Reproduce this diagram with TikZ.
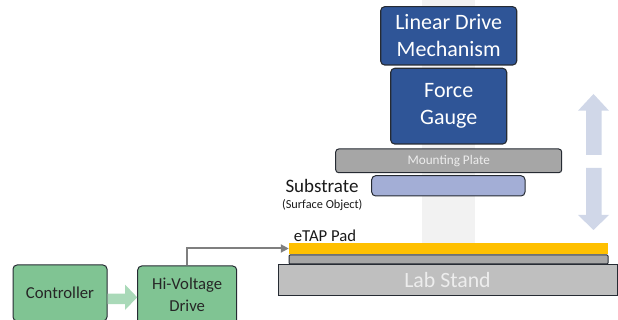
\documentclass[tikz,border=0pt]{standalone}
\usepackage{fontspec}
\setmainfont{Carlito}
\usetikzlibrary{arrows.meta}
\definecolor{bandgray}{HTML}{F2F2F2}
\definecolor{dblue}{HTML}{2F5597}
\definecolor{edgedark}{HTML}{262B33}
\definecolor{plategray}{HTML}{A6A6A6}
\definecolor{standgray}{HTML}{BFBFBF}
\definecolor{subblue}{HTML}{A3AED6}
\definecolor{padyellow}{HTML}{FFC000}
\definecolor{boxgreen}{HTML}{80C493}
\definecolor{arrowgreen}{HTML}{A9D9B8}
\definecolor{liftarrow}{HTML}{D0D7E8}
\definecolor{wiregray}{HTML}{7F7F7F}
\definecolor{lighttext}{HTML}{EDEDED}
\begin{document}
\begin{tikzpicture}[x=1pt,y=-1pt,
  bluebox/.style={draw=edgedark, line width=1.1pt, fill=dblue, rounded corners=4pt, inner sep=0pt, text=white, align=center, font=\fontsize{22}{26.7}\selectfont},
  greenbox/.style={draw=edgedark, line width=1pt, fill=boxgreen, rounded corners=4pt, inner sep=0pt, text=black!85, align=center, font=\fontsize{16.7}{22}\selectfont},
  platebox/.style={draw=edgedark, line width=1pt, fill=plategray, inner sep=0pt},
  label/.style={inner sep=0pt, text=black!90}
]
\useasboundingbox (0,0) rectangle (618,320);
\clip (0,0) rectangle (618,320);
% background band
\fill[bandgray] (422,0) rectangle (475,243);
% lift arrows
\fill[liftarrow] (593.5,94) -- (609,110.7) -- (601.7,110.7) -- (601.7,155) -- (586,155) -- (586,110.7) -- (578,110.7) -- cycle;
\fill[liftarrow] (593.5,230) -- (609,215) -- (601.7,215) -- (601.7,168) -- (586,168) -- (586,215) -- (578,215) -- cycle;
% stack
\node[bluebox, minimum width=136pt, minimum height=58.3pt] (ldm) at (448.7,35.85) {Linear Drive\\Mechanism};
\node[bluebox, minimum width=116pt, minimum height=75.7pt] (fg) at (448.7,106.15) {Force\\Gauge};
\node[platebox, rounded corners=3pt, minimum width=226pt, minimum height=23.7pt, text=lighttext, font=\fontsize{13.2}{15}\selectfont] (mp) at (448.7,160.85) {Mounting Plate};
\node[draw=edgedark, line width=1pt, fill=subblue, rounded corners=4pt, inner sep=0pt, minimum width=153.3pt, minimum height=20.3pt] (sub) at (448.35,185.85) {};
\node[label, font=\fontsize{19}{22}\selectfont] (sublabel) at (322,185.7) {Substrate};
\node[label, font=\fontsize{12.3}{14}\selectfont] (subnote) at (322.3,204.7) {(Surface Object)};
\node[label, font=\fontsize{16.7}{19}\selectfont] (padlabel) at (325,236) {eTAP Pad};
\node[fill=padyellow, inner sep=0pt, minimum width=319pt, minimum height=11pt] (pad) at (448.5,248.5) {};
\node[platebox, rounded corners=1pt, minimum width=319pt, minimum height=9pt] (plate) at (448.5,259.5) {};
\node[platebox, fill=standgray, minimum width=339pt, minimum height=30pt, text=lighttext, font=\fontsize{21.8}{24}\selectfont] (stand) at (447.5,280) {Lab Stand};
% controls
\node[greenbox, minimum width=94pt, minimum height=56pt] (ctrl) at (60,293) {Controller};
\node[greenbox, minimum width=99pt, minimum height=58pt] (hv) at (187.2,295) {Hi-Voltage\\Drive};
\fill[arrowgreen] (ctrl.east |- 0,293.5) -- (125,293.5) -- (125,284.5) -- (hv.west |- 0,297.3) -- (125,310) -- (125,304) -- (ctrl.east |- 0,304) -- cycle;
\draw[wiregray, line width=2pt, -{Triangle[length=8pt,width=8pt]}] (hv.north) |- (pad.west);
\end{tikzpicture}
\end{document}
